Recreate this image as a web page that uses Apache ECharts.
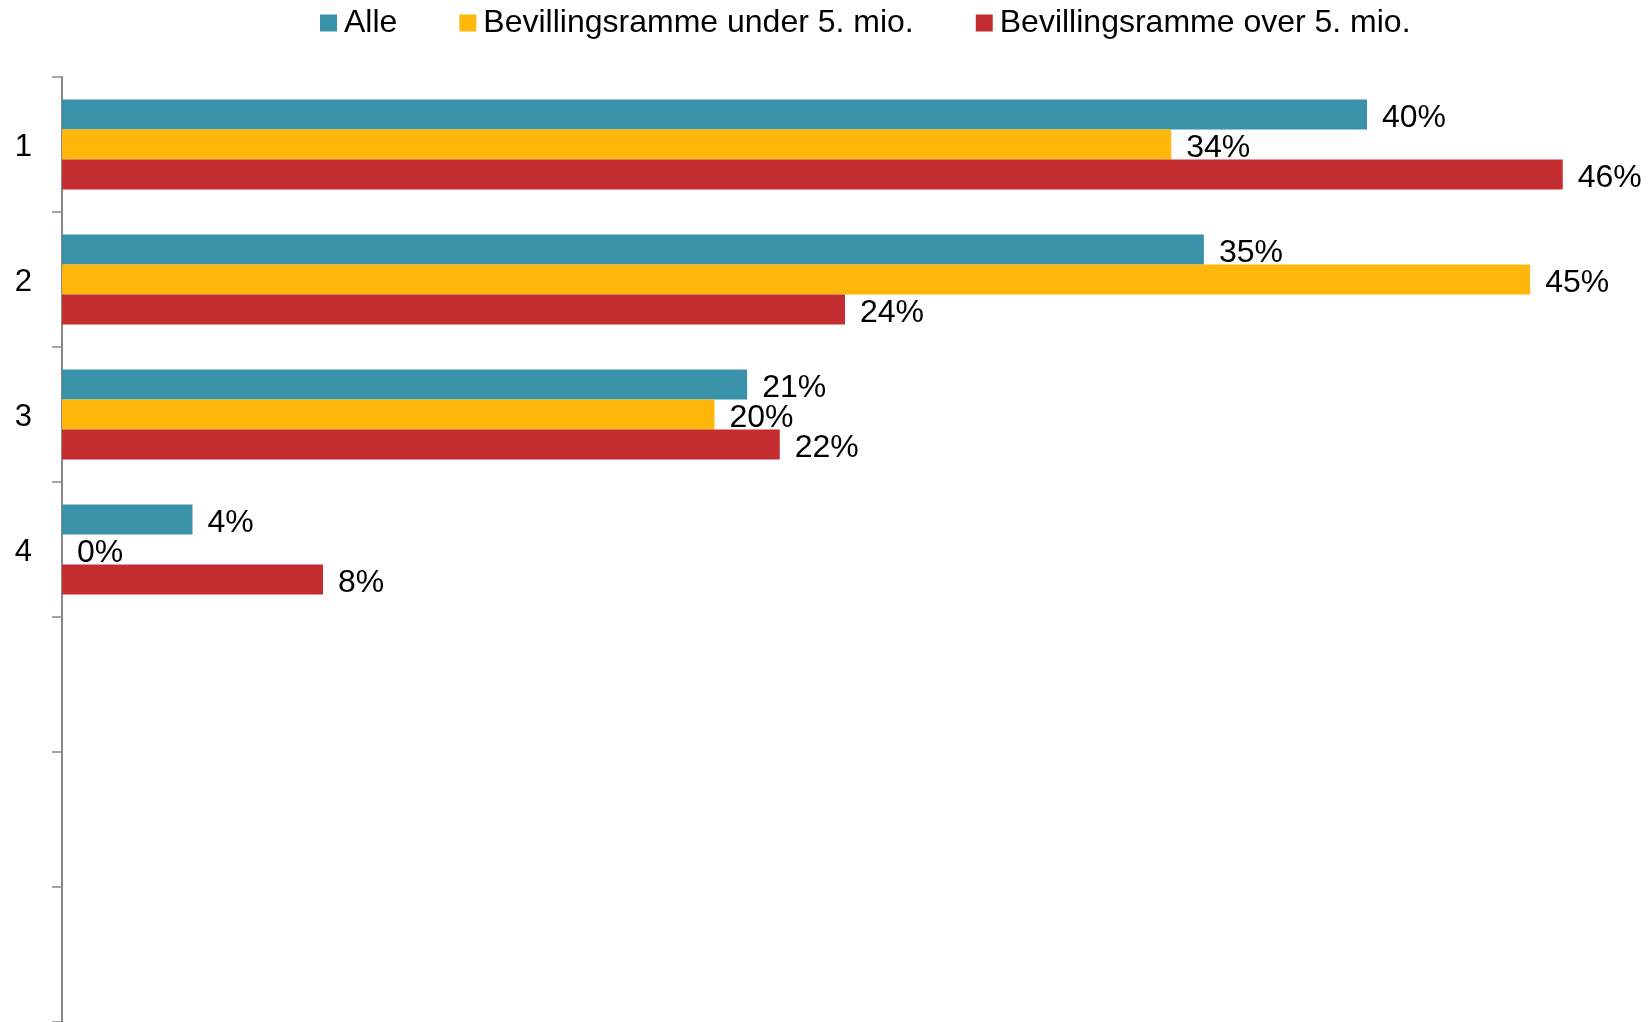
<!DOCTYPE html>
<html>
<head>
<meta charset="utf-8">
<script src="https://cdn.jsdelivr.net/npm/echarts@6/dist/echarts.min.js"></script>
<style>
html,body{margin:0;padding:0;background:#fff;}
#chart{width:1652px;height:1022px;}
</style>
</head>
<body>
<div id="chart"></div>
<script>
const categories = ['1', '2', '3', '4', '', ' ', '  '];
const seriesNames = ['Alle', 'Bevillingsramme under 5. mio.', 'Bevillingsramme over 5. mio.'];
const alle = [40, 35, 21, 4];
const under5 = [34, 45, 20, 0];
const over5 = [46, 24, 22, 8];
const colors = ['#3A92A9', '#FFB70B', '#C32D30'];

const FONT = '"Liberation Sans", Arial, Helvetica, sans-serif';
const chart = echarts.init(document.getElementById('chart'), null, {renderer: 'canvas'});

function mkSeries(name, data, color) {
  return {
    name: name,
    type: 'bar',
    data: data,
    barWidth: 30,
    barGap: '0%',
    itemStyle: {color: color},
    label: {
      show: true,
      position: 'right',
      distance: 15,
      offset: [0, 4],
      formatter: '{c}%',
      color: '#000',
      fontSize: 32,
      fontFamily: FONT
    },
    emphasis: {disabled: true},
    animation: false
  };
}

chart.setOption({
  animation: false,
  backgroundColor: '#fff',
  color: colors,
  legend: {
    top: 2,
    left: 315,
    itemWidth: 17,
    itemHeight: 17,
    itemGap: 62,
    icon: 'rect',
    textStyle: {fontSize: 32, color: '#000', fontFamily: FONT, padding: [0, 0, 0, 2]},
    data: seriesNames
  },
  grid: {
    left: 62,
    top: 77,
    width: 1566,
    height: 948,
    containLabel: false
  },
  xAxis: {
    type: 'value',
    min: 0,
    max: 48,
    show: false,
    splitLine: {show: false}
  },
  yAxis: {
    type: 'category',
    inverse: true,
    data: categories,
    axisLine: {show: true, lineStyle: {color: '#888', width: 2}},
    axisTick: {show: true, inside: false, length: 10, lineStyle: {color: '#888', width: 1.5}},
    axisLabel: {
      margin: 30,
      color: '#000',
      fontSize: 31,
      fontFamily: FONT,
      interval: 0,
      formatter: function (v) { return '{a|' + v + '}'; },
      rich: {
        a: {fontSize: 31, fontFamily: FONT, color: '#000', padding: [6, 0, 0, 0]}
      }
    },
    splitLine: {show: false}
  },
  series: [
    mkSeries(seriesNames[0], alle, colors[0]),
    mkSeries(seriesNames[1], under5, colors[1]),
    mkSeries(seriesNames[2], over5, colors[2])
  ]
});
</script>
</body>
</html>
